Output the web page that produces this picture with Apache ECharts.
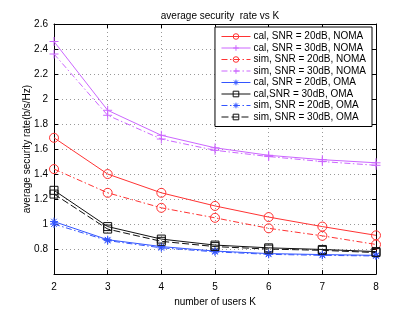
<!DOCTYPE html>
<html><head><meta charset="utf-8">
<script src="https://cdn.jsdelivr.net/npm/echarts@6/dist/echarts.min.js"></script>
<style>html,body{margin:0;padding:0;background:#fff}#c{width:415px;height:312px}</style>
</head><body><div id="c"></div>
<script>
const kValues = [2, 3, 4, 5, 6, 7, 8];
const calNoma20 = [1.69, 1.40, 1.25, 1.145, 1.056, 0.98, 0.91];
const calNoma30 = [2.46, 1.91, 1.71, 1.61, 1.55, 1.515, 1.49];
const simNoma20 = [1.44, 1.25, 1.13, 1.05, 0.966, 0.906, 0.837];
const simNoma30 = [2.36, 1.87, 1.68, 1.59, 1.54, 1.50, 1.47];
const calOma20 = [1.02, 0.875, 0.82, 0.784, 0.764, 0.756, 0.75];
const calOma30 = [1.27, 0.98, 0.88, 0.832, 0.81, 0.797, 0.78];
const simOma20 = [1.00, 0.868, 0.81, 0.778, 0.758, 0.75, 0.745];
const simOma30 = [1.24, 0.96, 0.862, 0.82, 0.80, 0.79, 0.772];
const seriesNames = ['cal, SNR = 20dB, NOMA','cal, SNR = 30dB, NOMA','sim, SNR = 20dB, NOMA','sim, SNR = 30dB, NOMA','cal, SNR = 20dB, OMA','cal,SNR = 30dB, OMA','sim, SNR = 20dB, OMA','sim, SNR = 30dB, OMA'];
const yTicks = [0.6, 0.8, 1, 1.2, 1.4, 1.6, 1.8, 2, 2.2, 2.4, 2.6];

const RED = '#ff3333', PUR = '#cc66ff', BLUE = '#3355ff', BLK = '#111111';
const PLUS = 'path://M5,0L5,10M0,5L10,5';
const STAR = 'path://M5,0L5,10M0,5L10,5M1.5,1.5L8.5,8.5M8.5,1.5L1.5,8.5';
const DASHDOT = [6, 2.5, 1.5, 2.5];
const DASH = [7, 3];

function mk(name, vals, color, symbol, size, dash) {
  return {
    name, type: 'line', data: kValues.map((k, i) => [k, vals[i]]),
    symbol, symbolSize: size, showSymbol: true,
    lineStyle: { color, width: 1, type: dash },
    itemStyle: { color: 'none', borderColor: color, borderWidth: 1 },
    emphasis: { disabled: true }, animation: false, z: 3
  };
}
const data = [
  [calNoma20, RED, 'circle', 9, 'solid'],
  [calNoma30, PUR, PLUS, 9, 'solid'],
  [simNoma20, RED, 'circle', 9, DASHDOT],
  [simNoma30, PUR, PLUS, 9, DASHDOT],
  [calOma20, BLUE, STAR, 8, 'solid'],
  [calOma30, BLK, 'rect', 8, 'solid'],
  [simOma20, BLUE, STAR, 8, DASHDOT],
  [simOma30, BLK, 'rect', 8, DASH]
];
const series = data.map((d, i) => mk(seriesNames[i], d[0], d[1], d[2], d[3], d[4]));

const font = 'Liberation Sans, Arial, sans-serif';
const chart = echarts.init(document.getElementById('c'), null, { renderer: 'canvas' });
chart.setOption({
  animation: false,
  backgroundColor: '#fff',
  title: { text: 'average security  rate vs K', left: 215, top: 6, textAlign: 'center',
    textStyle: { fontSize: 10, fontWeight: 'normal', color: '#000', fontFamily: font } },
  grid: { left: 54, right: 39, top: 24, bottom: 35, containLabel: false },
  legend: {
    right: 43, top: 27, orient: 'vertical', itemWidth: 29, itemHeight: 7, itemGap: 0.5,
    padding: [4, 6, 4, 6], borderColor: '#000', borderWidth: 1, backgroundColor: '#fff',
    lineStyle: { width: 1 }, itemStyle: { borderWidth: 1, color: 'none' },
    textStyle: { fontSize: 10, lineHeight: 11, color: '#000', fontFamily: font, padding: [0, 0, 0, -2] },
    data: seriesNames
  },
  xAxis: [{
    type: 'value', min: 2, max: 8, interval: 1,
    name: 'number of users K', nameLocation: 'middle', nameGap: 15,
    nameTextStyle: { fontSize: 10, color: '#000', fontFamily: font },
    axisLine: { lineStyle: { color: '#000', width: 1 } },
    axisTick: { inside: true, length: 4, lineStyle: { color: '#000' } },
    axisLabel: { fontSize: 10, color: '#000', fontFamily: font, margin: 8 },
    splitLine: { show: true, lineStyle: { color: '#999', type: [1, 3], width: 1 } }
  }, {
    type: 'value', min: 2, max: 8, interval: 1, position: 'top',
    axisLine: { onZero: false, lineStyle: { color: '#000' } },
    axisTick: { inside: true, length: 4, lineStyle: { color: '#000' } },
    axisLabel: { show: false }, splitLine: { show: false }
  }],
  yAxis: [{
    type: 'value', min: 0.6, max: 2.6, interval: 0.2,
    name: 'average security rate(b/s/Hz)', nameLocation: 'middle', nameGap: 27, nameMoveOverlap: false,
    nameTextStyle: { fontSize: 10, color: '#000', fontFamily: font, verticalAlign: 'middle' },
    axisLine: { show: true, lineStyle: { color: '#000', width: 1 } },
    axisTick: { show: true, inside: true, length: 4, lineStyle: { color: '#000' } },
    axisLabel: { fontSize: 10, color: '#000', fontFamily: font, margin: 6,
      formatter: v => { const t = yTicks.find(x => Math.abs(x - v) < 1e-6); return (t === undefined || Math.abs(t - 0.6) < 1e-6) ? '' : String(t); } },
    splitLine: { show: true, lineStyle: { color: '#999', type: [1, 3], width: 1 } }
  }, {
    type: 'value', min: 0.6, max: 2.6, interval: 0.2, position: 'right',
    axisLine: { show: true, onZero: false, lineStyle: { color: '#000' } },
    axisTick: { show: true, inside: true, length: 4, lineStyle: { color: '#000' } },
    axisLabel: { show: false }, splitLine: { show: false }
  }],
  series
});
</script></body></html>
